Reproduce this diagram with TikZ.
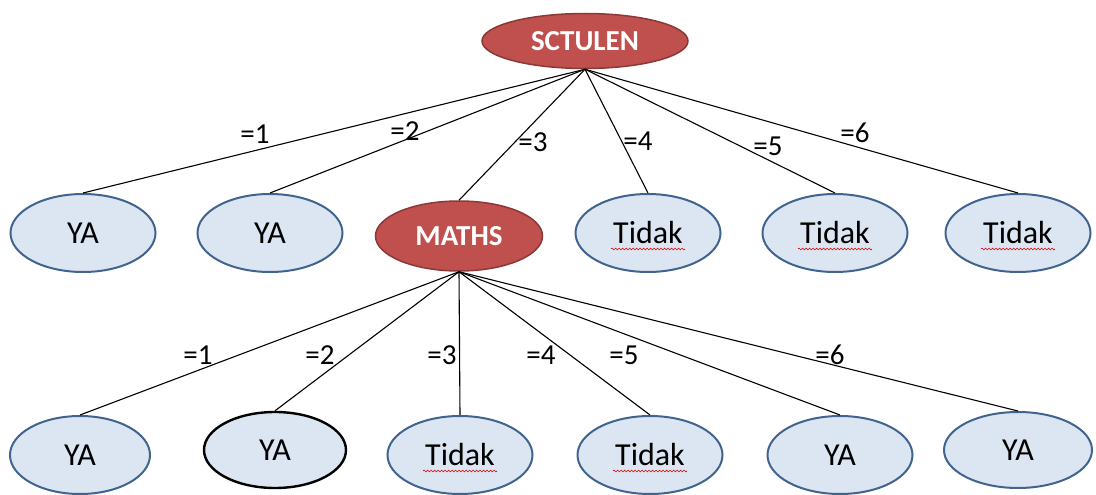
\documentclass[tikz,border=0pt]{standalone}
\usepackage{fontspec}
\setmainfont{Carlito}
\usetikzlibrary{shapes.geometric,decorations.pathmorphing}
\definecolor{bfill}{HTML}{DCE6F2}
\definecolor{bline}{HTML}{41648F}
\definecolor{rfill}{HTML}{C0504D}
\definecolor{rline}{HTML}{8C3836}
\begin{document}
\begin{tikzpicture}[x=1pt,y=-1pt,
  bnode/.style={ellipse, draw=bline, line width=2pt, fill=bfill, minimum width=145pt, minimum height=78pt, inner sep=0pt, font=\fontsize{32}{32}\selectfont},
  rnode/.style={ellipse, draw=rline, line width=1.5pt, fill=rfill, text=white, inner sep=0pt, font=\fontsize{29}{29}\selectfont\bfseries},
  lbl/.style={inner sep=0pt, font=\fontsize{29}{29}\selectfont},
  conn/.style={draw=black, line width=1.1pt},
  squig/.style={draw=red!85!black, line width=0.6pt, decorate, decoration={snake, amplitude=0.9pt, segment length=3.5pt}}
]
\useasboundingbox (0,0) rectangle (1096,495);

% top node
\node[rnode, minimum width=206pt, minimum height=55pt] (S) at (585,41) {SCTULEN};

% level 2
\node[bnode] (A1) at (83,233) {YA};
\node[bnode] (A2) at (270,233) {YA};
\node[rnode, minimum width=167pt, minimum height=70pt] (M) at (459,236) {MATHS};
\node[bnode] (A4) at (648,233) {Tidak};
\node[bnode] (A5) at (835,233) {Tidak};
\node[bnode] (A6) at (1018,233) {Tidak};

% level 3
\node[bnode, minimum width=140pt] (B1) at (80,455) {YA};
\node[bnode, draw=black, line width=2.4pt, minimum width=142pt, minimum height=76pt] (B2) at (275,450) {YA};
\node[bnode] (B3) at (460,455) {Tidak};
\node[bnode] (B4) at (650,455) {Tidak};
\node[bnode] (B5) at (840,455) {YA};
\node[bnode, minimum width=148pt, minimum height=76pt] (B6) at (1018,450) {YA};

% spell-check squiggles
\foreach \n in {A4,A5,A6,B3,B4}
  \draw[squig] ([xshift=-37pt,yshift=-16pt]\n.center) -- ([xshift=37pt,yshift=-16pt]\n.center);

% connectors top
\foreach \n in {A1,A2,M,A4,A5,A6}
  \draw[conn] (S.south) -- (\n.north);
% connectors bottom
\foreach \n in {B1,B2,B3,B4,B5,B6}
  \draw[conn] (M.south) -- (\n.north);

% labels top
\node[lbl] (l1) at (255,134) {=1};
\node[lbl] (l2) at (405,131) {=2};
\node[lbl] (l3) at (533,142) {=3};
\node[lbl] (l4) at (638,141) {=4};
\node[lbl] (l5) at (768,146) {=5};
\node[lbl] (l6) at (855,133) {=6};

% labels bottom
\node[lbl] (m1) at (198,355) {=1};
\node[lbl] (m2) at (320,355) {=2};
\node[lbl] (m3) at (442,355) {=3};
\node[lbl] (m4) at (541,355) {=4};
\node[lbl] (m5) at (624,355) {=5};
\node[lbl] (m6) at (830,355) {=6};
\end{tikzpicture}
\end{document}
